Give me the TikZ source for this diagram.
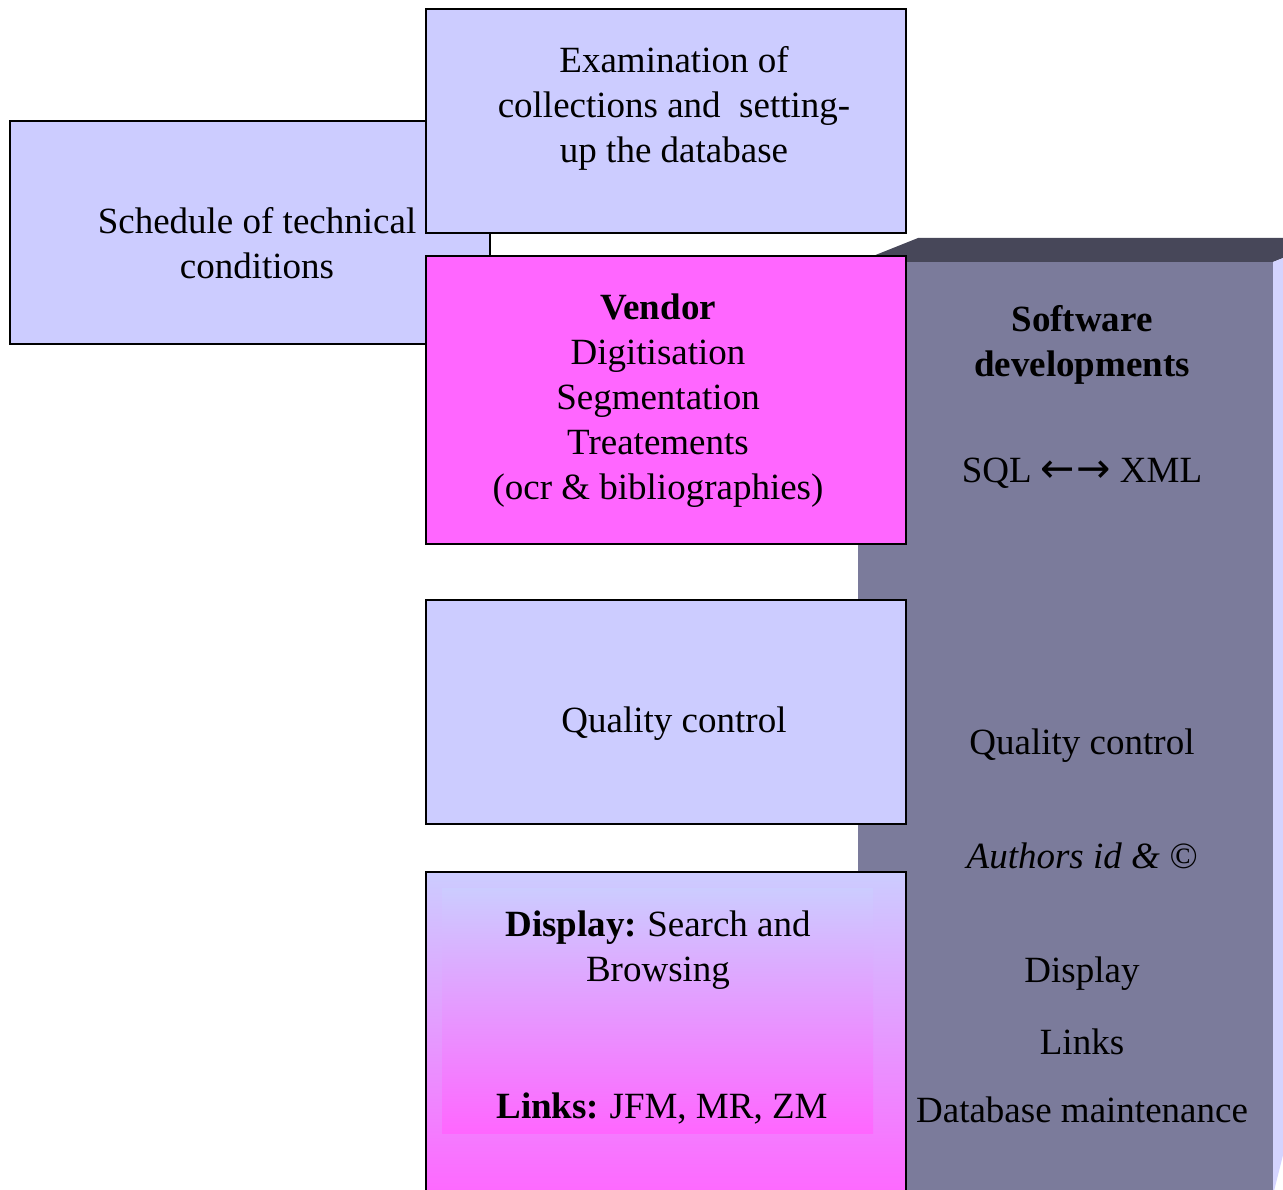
\documentclass[tikz,border=0pt]{standalone}
\usepackage{fontspec}
\setmainfont{Liberation Serif}
\newfontfamily\arrowfont{DejaVu Sans}
\definecolor{lavender}{HTML}{CCCCFF}
\definecolor{vendorpink}{HTML}{FF66FF}
\definecolor{softfront}{HTML}{7B7B9B}
\definecolor{softtop}{HTML}{474759}
\definecolor{softside}{HTML}{D4D4FF}
\begin{document}
\begin{tikzpicture}[x=1pt,y=-1pt,
  box/.style={draw,line width=1.6pt,rectangle,inner sep=0pt,minimum width=480pt},
  txt/.style={align=center,inner sep=0pt,font=\fontsize{37}{45}\selectfont}]
\useasboundingbox (0,0) rectangle (1283,1190);
\clip (0,0) rectangle (1283,1190);
\node[box,fill=lavender,minimum height=223pt] at (250,232.5) (schedule) {};
\node[txt] at (257,243.5) (scheduletxt) {Schedule of technical\\conditions};
\node[box,fill=lavender,minimum height=224pt] at (666,121) (exam) {};
\node[txt] at (674,108.5) (examtxt) {Examination of\\collections and\ \ setting-\\up the database};
\fill[softfront] (858,262) rectangle (1273,1200);
\fill[softtop] (858,262) -- (918,238) -- (1333,238) -- (1273,262) -- cycle;
\fill[softside] (1273,262) -- (1293,254) -- (1293,1115) -- (1273,1195) -- cycle;
\node[box,fill=vendorpink,minimum height=288pt] at (666,400) (vendor) {};
\node[txt] at (658,401) (vendortxt) {\textbf{Vendor}\\Digitisation\\Segmentation\\Treatements\\(ocr \& bibliographies)};
\node[box,fill=lavender,minimum height=224pt] at (666,712) (quality) {};
\node[txt] at (674,724) (qualitytxt) {Quality control};
\node[box,top color=lavender,bottom color=vendorpink,minimum height=328pt] at (666,1036) (display) {};
\node[rectangle,inner sep=0pt,top color=lavender,bottom color=vendorpink,minimum width=431pt,minimum height=245pt] at (657.5,1010.5) (displayinner) {};
\node[txt] at (658,950.5) (displaytxt) {\textbf{Display:}\hspace{-2pt} Search and\\Browsing};
\node[txt] at (662,1109) (linkstxt) {\textbf{Links:}\hspace{-2pt} JFM, MR, ZM};
\node[txt,font=\fontsize{37}{45}\selectfont\bfseries] at (1082,344.5) (softtitle) {Software\\developments};
\node[txt] at (1082,473.5) (sqlxml) {SQL {\arrowfont\fontsize{41}{45}\selectfont ←\kern1pt→} XML};
\node[txt] at (1082,745.5) (softquality) {Quality control};
\node[txt,font=\fontsize{37}{45}\selectfont\itshape] at (1082,856) (authors) {Authors id \& ©};
\node[txt] at (1082,973.5) (softdisplay) {Display};
\node[txt] at (1082,1041.5) (softlinks) {Links};
\node[txt] at (1082,1109.5) (maintenance) {Database maintenance};
\end{tikzpicture}
\end{document}
